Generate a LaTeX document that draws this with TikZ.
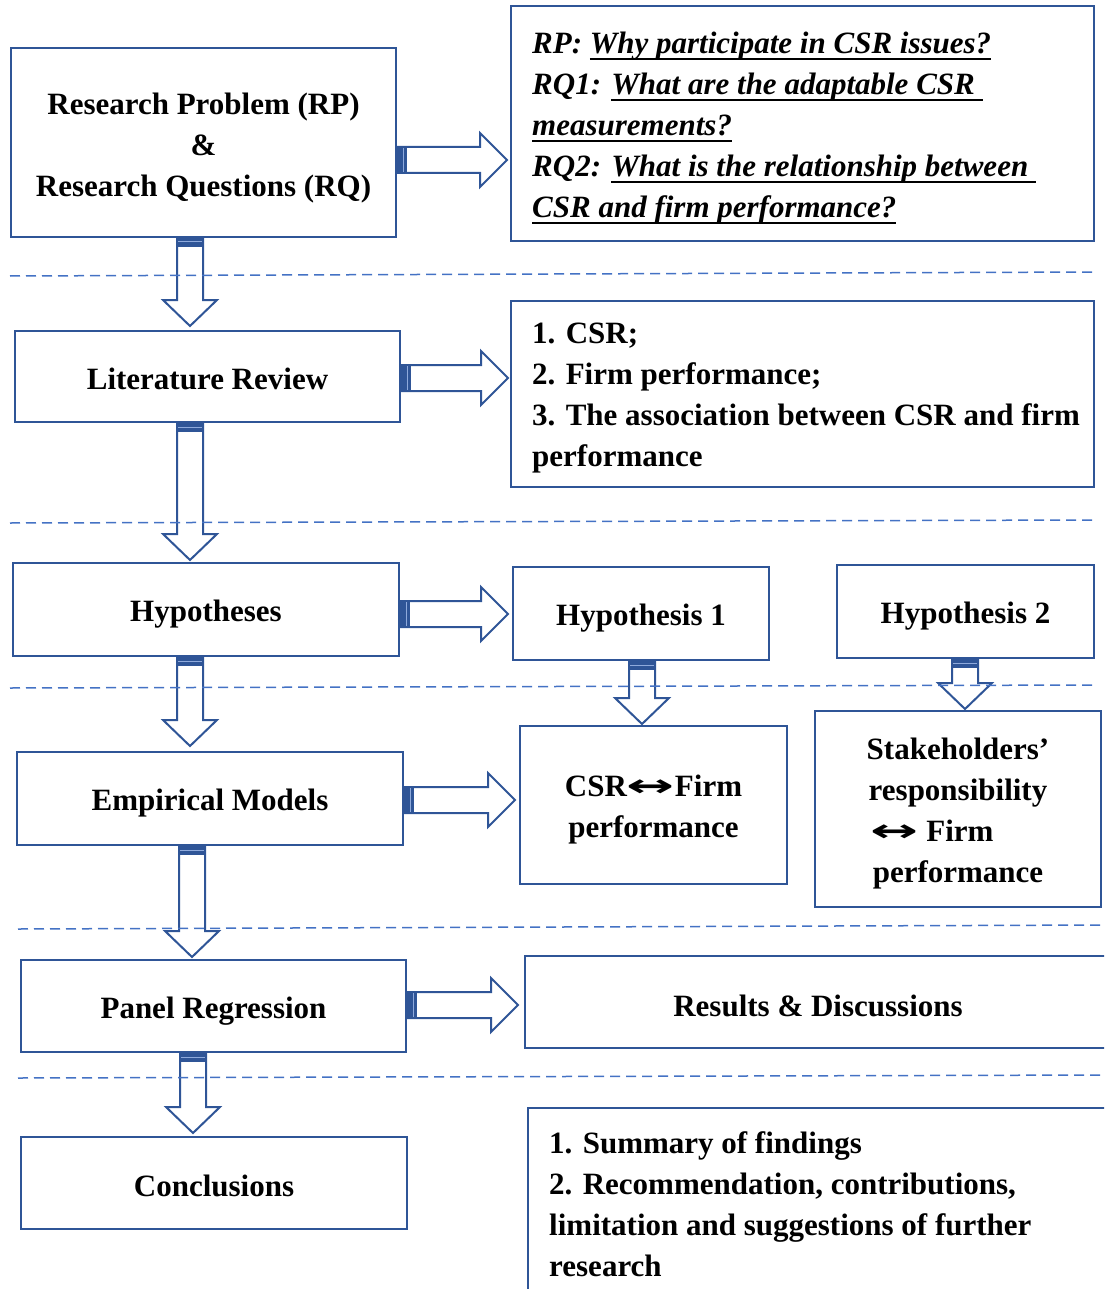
\documentclass[tikz,border=0pt]{standalone}
\usepackage{fontspec}
\setmainfont{Liberation Serif}
\newfontfamily\symfont{DejaVu Sans}
\usepackage{graphicx}
\usetikzlibrary{calc}
\definecolor{boxc}{HTML}{2F5597}
\definecolor{dashc}{HTML}{4472C4}
\definecolor{stripec}{HTML}{8FAADC}
\newcommand\lrar{{\symfont\bfseries\scalebox{1.85}[1]{↔}}}
\newcommand\lnx[2][-5pt]{\raisebox{#1}[\height][\depth]{#2}}
\newsavebox\ulbox
\newcommand\ulx[1]{\sbox\ulbox{#1}\rlap{\rule[-7pt]{\wd\ulbox}{2.6pt}}\usebox\ulbox}
\tikzset{
 box/.style={draw=boxc, line width=2pt, rectangle, inner sep=0pt, align=center, font=\bfseries\fontsize{31}{41}\selectfont},
 ltext/.style={anchor=west, align=left, inner sep=0pt, font=\bfseries\fontsize{31}{41}\selectfont},
 barrow/.style={draw=boxc, line width=2pt, fill=white, line join=miter},
 band/.style={fill=boxc},
 stripe/.style={draw=stripec, line width=1pt},
 sep/.style={draw=dashc, line width=1.5pt, dash pattern=on 10pt off 6pt},
}
% right block arrow: from #1.east to #2.west at height #3, tip gap #4
\newcommand\rarr[4]{%
 \path[barrow] let \p1=(#1.east), \p2=(#2.west), \p3=(0,#3) in
  (\x1,\y3+13pt) -- (\x2-#4-27pt,\y3+13pt) -- (\x2-#4-27pt,\y3+27pt) -- (\x2-#4,\y3)
  -- (\x2-#4-27pt,\y3-27pt) -- (\x2-#4-27pt,\y3-13pt) -- (\x1,\y3-13pt) -- cycle;
 \path[band] let \p1=(#1.east), \p3=(0,#3) in (\x1,\y3-13pt) rectangle (\x1+10pt,\y3+13pt);
 \path[stripe] let \p1=(#1.east), \p3=(0,#3) in (\x1+6pt,\y3-12pt) -- (\x1+6pt,\y3+12pt);
}
% down block arrow: from #1.south to #2.north at x #3, tip gap #4
\newcommand\darr[4]{%
 \path[barrow] let \p1=(#1.south), \p2=(#2.north), \p3=(#3,0) in
  (\x3-13pt,\y1) -- (\x3-13pt,\y2+#4+26pt) -- (\x3-27pt,\y2+#4+26pt) -- (\x3,\y2+#4)
  -- (\x3+27pt,\y2+#4+26pt) -- (\x3+13pt,\y2+#4+26pt) -- (\x3+13pt,\y1) -- cycle;
 \path[band] let \p1=(#1.south), \p3=(#3,0) in (\x3-13pt,\y1+2pt) rectangle (\x3+13pt,\y1-9pt);
 \path[stripe] let \p1=(#1.south), \p3=(#3,0) in (\x3-12pt,\y1-4pt) -- (\x3+12pt,\y1-4pt);
}
\begin{document}
\begin{tikzpicture}[x=1pt,y=-1pt]
\useasboundingbox (0,0) rectangle (1104,1289);
\clip (0,0) rectangle (1104,1289);

% boxes
\node[box, minimum width=385, minimum height=189] (rp) at (203.5,142.5)
  {\lnx[-5.5pt]{Research Problem (RP)}\\\lnx[-5.5pt]{\&}\\\lnx[-5.5pt]{Research Questions (RQ)}};
\node[box, minimum width=583, minimum height=235] (rq) at (802.5,123.5) {};
\node[ltext, font=\bfseries\itshape\fontsize{31}{41}\selectfont] (rqt) at (532,128)
  {RP: \ulx{Why participate in CSR issues?}\\
   RQ1: \ulx{What are the adaptable CSR\ }\\
   \ulx{measurements?}\\
   RQ2: \ulx{What is the relationship between\ }\\
   \ulx{CSR and firm performance?}};

\node[box, minimum width=385, minimum height=91] (lit) at (207.5,376.5) {\lnx[-2pt]{Literature Review}};
\node[box, minimum width=583, minimum height=186] (lst) at (802.5,394) {};
\node[ltext] (lstt) at (532,398.5)
  {1. CSR;\\2. Firm performance;\\3. The association between CSR and firm\\performance};

\node[box, minimum width=386, minimum height=93] (hyp) at (206,609.5) {\lnx{Hypotheses}};
\node[box, minimum width=256, minimum height=93] (h1) at (641,613.5) {\lnx{Hypothesis 1}};
\node[box, minimum width=257, minimum height=93] (h2) at (965.5,611.5) {\lnx{Hypothesis 2}};

\node[box, minimum width=386, minimum height=93] (emp) at (210,798.5) {\lnx{Empirical Models}};
\node[box, minimum width=267, minimum height=158] (csr) at (653.5,805)
  {\lnx{CSR\lrar Firm}\\\lnx{performance}};
\node[box, minimum width=286, minimum height=196] (stk) at (958,809)
  {\lnx{Stakeholders’}\\\lnx{responsibility}\\\lnx{\lrar\ Firm\hspace*{52pt}}\\\lnx{performance}};

\node[box, minimum width=385, minimum height=92] (pan) at (213.5,1006) {\lnx{Panel Regression}};
\node[box, minimum width=586, minimum height=92] (res) at (818,1002) {\lnx[-3.5pt]{Results \& Discussions}};

\node[box, minimum width=386, minimum height=92] (con) at (214,1183) {\lnx[-2.5pt]{Conclusions}};
\node[box, minimum width=602, minimum height=212] (sum) at (829,1214) {};
\node[ltext] (sumt) at (549,1204)
  {1. Summary of findings\\2. Recommendation, contributions,\\limitation and suggestions of further\\research};

% block arrows
\rarr{rp}{rq}{160}{3pt}
\rarr{lit}{lst}{378}{2pt}
\rarr{hyp}{h1}{614}{4pt}
\rarr{emp}{csr}{800}{4pt}
\rarr{pan}{res}{1005}{6pt}
\darr{rp}{lit}{190}{4pt}
\darr{lit}{hyp}{190}{2pt}
\darr{hyp}{emp}{190}{5pt}
\darr{emp}{pan}{192}{2pt}
\darr{pan}{con}{193}{3pt}
\darr{h1}{csr}{642}{1pt}
\darr{h2}{stk}{965}{1pt}

% dashed separators
\draw[sep] (10,276) -- (1095,272);
\draw[sep] (10,523) -- (1095,520);
\draw[sep] (10,688) -- (1097,685);
\draw[sep] (18,929) -- (1104,925);
\draw[sep] (18,1078) -- (1104,1075);
\end{tikzpicture}
\end{document}
